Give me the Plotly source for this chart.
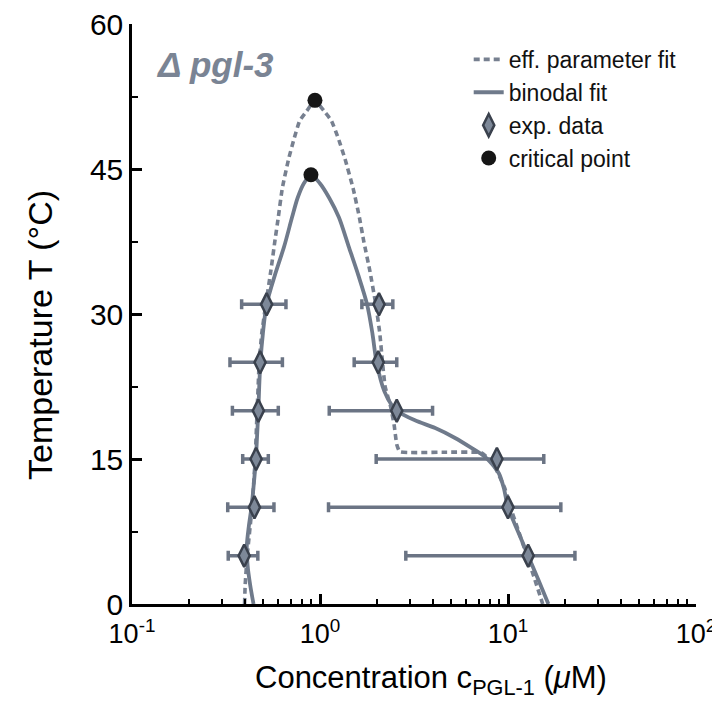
import plotly.graph_objects as go

# exp. data (temperature in C, concentration in uM)
T_exp = [31, 25, 20, 15, 10, 5]
c_dilute = [0.52, 0.48, 0.47, 0.457, 0.448, 0.395]
c_dilute_lo = [0.383, 0.332, 0.342, 0.388, 0.323, 0.325]
c_dilute_hi = [0.659, 0.631, 0.600, 0.531, 0.569, 0.467]
c_dense = [2.06, 2.04, 2.56, 8.73, 10.0, 12.8]
c_dense_lo = [1.67, 1.52, 1.12, 1.99, 1.11, 2.86]
c_dense_hi = [2.44, 2.56, 3.97, 15.5, 19.1, 22.7]

# binodal fit, dilute branch up to the critical point then dense branch down
binodal_T = [0, 2, 4, 6, 8, 10, 12.5, 15, 17.5, 20, 22.5, 25, 28, 31, 34, 37, 40, 42, 43.5, 44.4,
             43.5, 42, 40, 37, 34, 31, 28, 25, 22, 20.5, 20, 19, 18.2, 17.2, 16.1, 15.3, 14.5,
             13.5, 12, 10, 7.5, 5, 2.5, 0]
binodal_c = [0.443, 0.425, 0.412, 0.408, 0.418, 0.432, 0.445, 0.456, 0.463, 0.470, 0.475, 0.482, 0.497,
             0.520, 0.575, 0.645, 0.71, 0.76, 0.82, 0.895,
             1.00, 1.12, 1.26, 1.42, 1.60, 1.78, 1.90, 2.00, 2.20, 2.42, 2.56, 3.2, 4.1, 5.2, 6.45,
             7.45, 8.2, 8.95, 9.5, 10.0, 11.3, 12.8, 14.5, 16.4]

# effective parameter fit
eff_T = [0, 2, 5, 10, 15, 20, 25, 28, 31, 34.5, 37.5, 40, 43, 46, 48, 50, 51, 52.1,
         51, 50, 48, 46, 43, 40, 37.5, 34.5, 31, 28, 25, 22.5, 20.5, 18.5, 16.5, 15.75,
         15.7, 15.65, 15.0, 14, 12, 10, 7.5, 5, 2.5, 0]
eff_c = [0.397, 0.40, 0.41, 0.435, 0.452, 0.463, 0.475, 0.49, 0.515, 0.548, 0.575, 0.60, 0.63, 0.68,
         0.725, 0.78, 0.85, 0.94,
         1.05, 1.15, 1.26, 1.36, 1.50, 1.62, 1.71, 1.84, 1.98, 2.08, 2.15, 2.22, 2.37, 2.48, 2.56, 2.66,
         4.5, 7.2, 7.9, 8.6, 9.6, 10.3, 11.4, 12.6, 13.9, 15.3]

# critical points (eff. fit, binodal fit)
crit_c = [0.94, 0.895]
crit_T = [52.1, 44.4]

x_ticks = [0.1, 1, 10, 100]
x_ticktext = ["10<sup>-1</sup>", "10<sup>0</sup>", "10<sup>1</sup>", "10<sup>2</sup>"]
x_minor = [m * d for d in [0.1, 1, 10] for m in range(2, 10)]
y_ticks = [0, 15, 30, 45, 60]
y_minor = [7.5, 22.5, 37.5, 52.5]

FONT = "Liberation Sans, Arial, Helvetica, sans-serif"
SOLID = "#6f7a8b"
DASHED = "#778090"
BAR = "#6b7484"

fig = go.Figure()

fig.add_trace(go.Scatter(x=eff_c, y=eff_T, mode="lines", name="eff. parameter fit",
                         line=dict(color=DASHED, width=3.6, dash="6px,4px", shape="spline", smoothing=0.4),
                         legendrank=1))
fig.add_trace(go.Scatter(x=binodal_c, y=binodal_T, mode="lines", name="binodal fit",
                         line=dict(color=SOLID, width=3.8, shape="spline", smoothing=0.8),
                         legendrank=2))

diamond = dict(symbol="diamond-tall", size=16, color="#7d8898",
               line=dict(color="#3a414d", width=2.5))

def add_branch(c, lo, hi, show):
    fig.add_trace(go.Scatter(
        x=c, y=T_exp, mode="markers", name="exp. data", showlegend=show,
        marker=diamond, legendrank=3,
        error_x=dict(type="data", symmetric=False,
                     array=[h - v for h, v in zip(hi, c)],
                     arrayminus=[v - l for v, l in zip(c, lo)],
                     color=BAR, thickness=3.5, width=5)))

add_branch(c_dilute, c_dilute_lo, c_dilute_hi, True)
add_branch(c_dense, c_dense_lo, c_dense_hi, False)

fig.add_trace(go.Scatter(x=crit_c, y=crit_T, mode="markers", name="critical point",
                         marker=dict(color="#161616", size=15), legendrank=4))

# page body has an 8px margin, so the figure is 8px smaller and the plot area
# lands at x 132..696, y 24..604 of the window
fig.update_layout(
    width=712, height=702,
    margin=dict(l=124, r=24, t=16, b=106, autoexpand=False),
    paper_bgcolor="white", plot_bgcolor="white",
    font=dict(family=FONT, color="black"),
    showlegend=True,
    legend=dict(x=0.597, y=0.976, xanchor="left", yanchor="top",
                font=dict(size=23, color="#111111"), bgcolor="rgba(0,0,0,0)",
                itemwidth=30),
)

fig.update_xaxes(type="log", range=[-1, 2], showgrid=False, zeroline=False, automargin=False,
                 showline=True, linecolor="black", linewidth=2.5,
                 ticks="inside", ticklen=10, tickwidth=2.5, tickcolor="black",
                 tickvals=x_ticks, ticktext=x_ticktext, tickfont=dict(size=27),
                 ticklabelstandoff=4, ticklabeloverflow="allow",
                 minor=dict(tickvals=x_minor, ticks="inside", ticklen=5, tickwidth=2, tickcolor="black"))
fig.update_yaxes(range=[0, 60], showgrid=False, zeroline=False, automargin=False,
                 showline=True, linecolor="black", linewidth=2.5,
                 ticks="inside", ticklen=10, tickwidth=2.5, tickcolor="black",
                 tickvals=y_ticks, tickfont=dict(size=30), ticklabelstandoff=0,
                 ticklabeloverflow="allow",
                 minor=dict(tickvals=y_minor, ticks="inside", ticklen=6, tickwidth=2, tickcolor="black"))

# axis titles and panel label
fig.add_annotation(text="Temperature T (°C)", xref="paper", yref="paper",
                   x=(40 - 132) / 564, y=(604 - 335) / 580, textangle=-90,
                   xanchor="center", yanchor="middle",
                   showarrow=False, font=dict(size=34, color="black"))
fig.add_annotation(text="Concentration c<sub>PGL-1</sub> (<i>μ</i>M)", xref="paper", yref="paper",
                   x=(431 - 132) / 564, y=(604 - 680) / 580, xanchor="center", yanchor="middle",
                   showarrow=False, font=dict(size=31, color="black"))
fig.add_annotation(text="<b><i>Δ pgl-3</i></b>", xref="paper", yref="paper",
                   x=(154 - 132) / 564, y=(604 - 64) / 580, xanchor="left", yanchor="middle",
                   showarrow=False, font=dict(size=35, color="#7a8494"))

fig.write_html("out.html")
